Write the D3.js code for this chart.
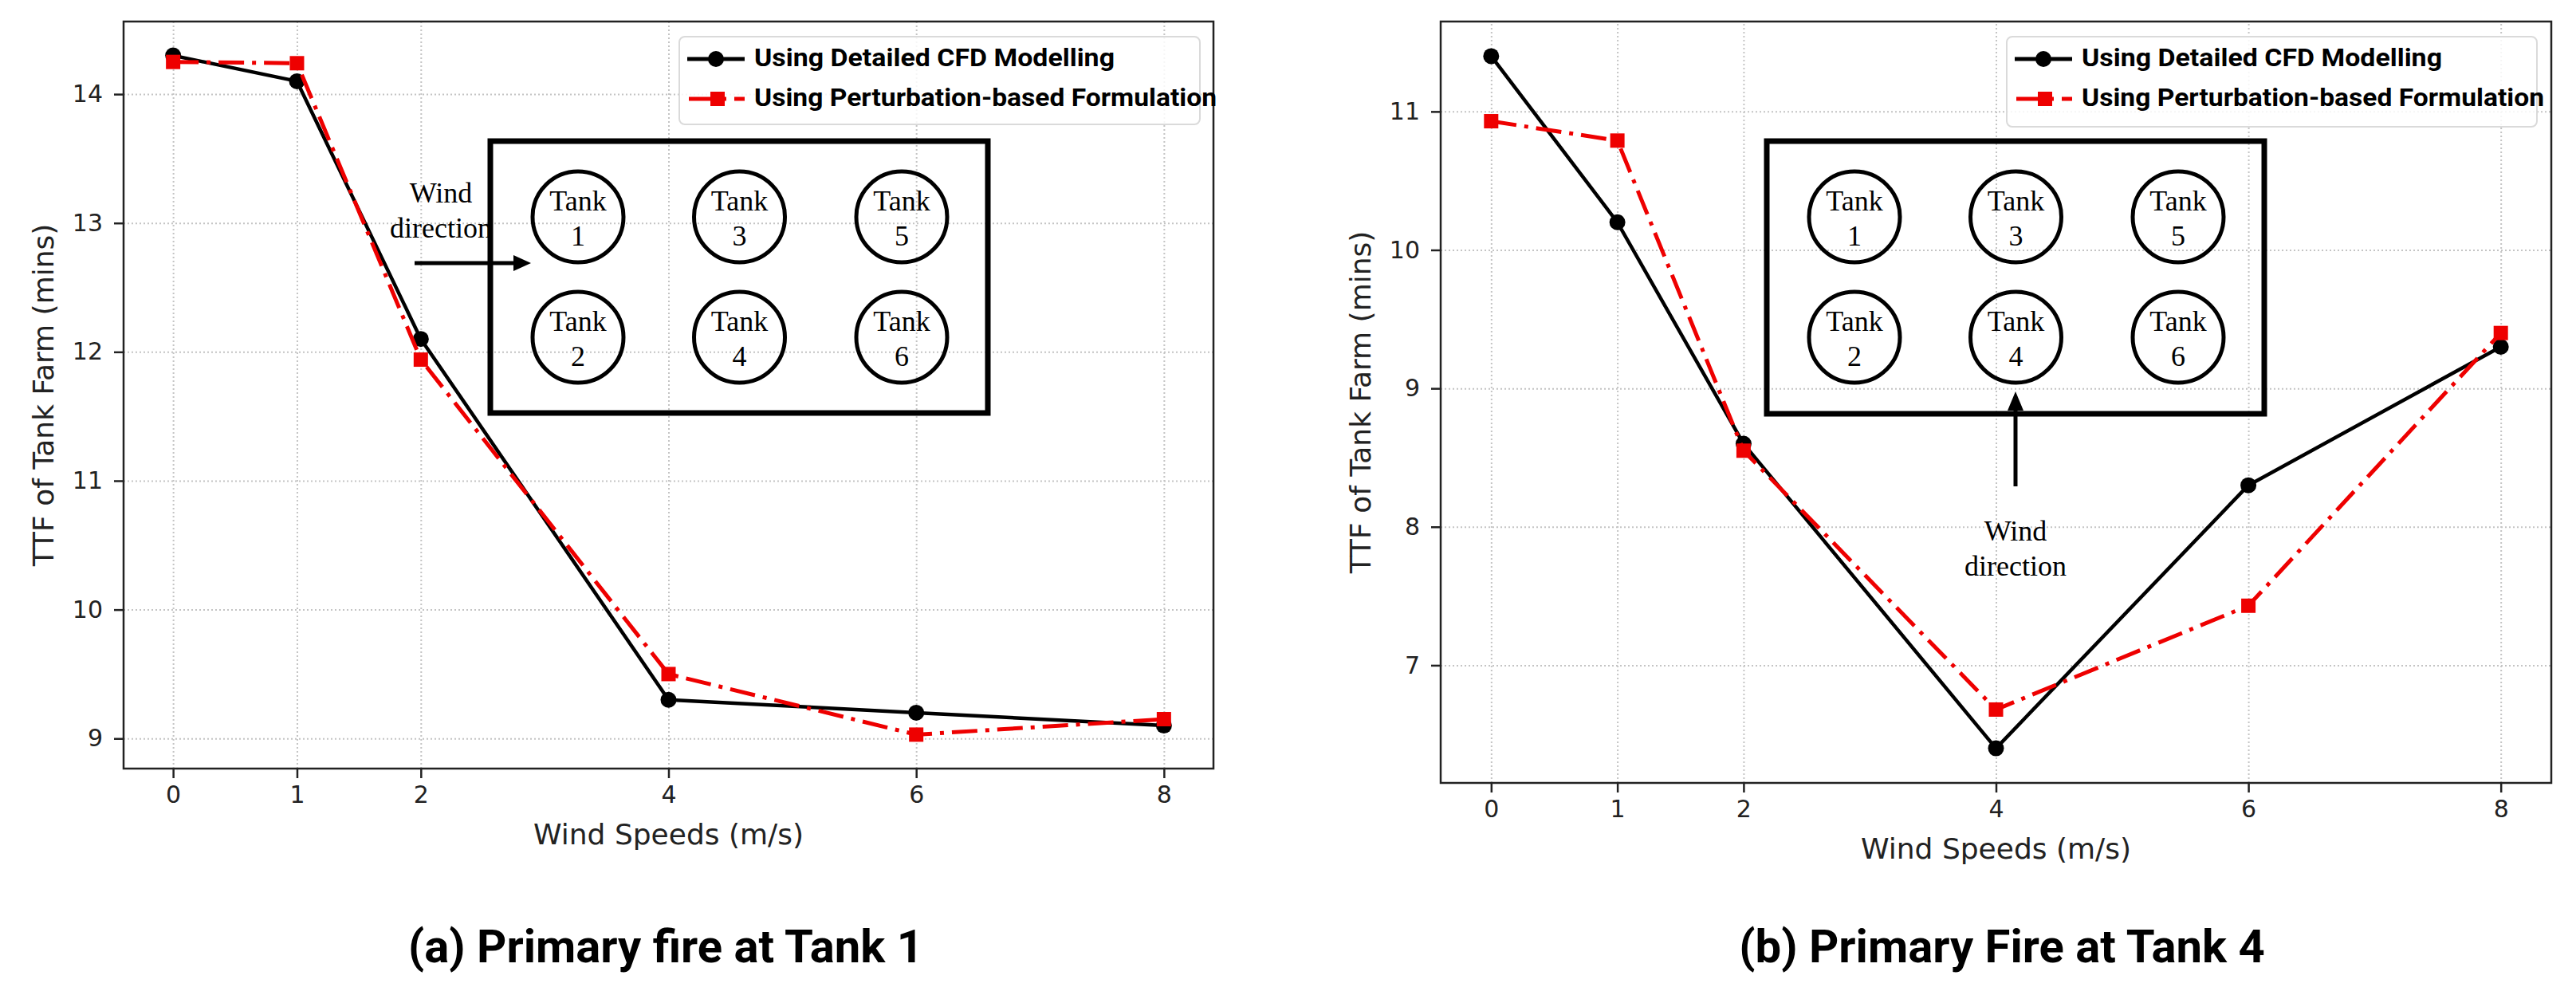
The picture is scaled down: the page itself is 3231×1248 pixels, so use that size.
<!DOCTYPE html>
<html>
<head>
<meta charset="utf-8">
<script src="https://cdn.jsdelivr.net/npm/d3@7"></script>
<style>
  html, body { margin: 0; padding: 0; background: #fff; }
  svg { display: block; }
</style>
</head>
<body>
<svg id="chart" width="3231" height="1248"></svg>
<script>
// ---------------- DATA ----------------
const windSpeeds = [0, 1, 2, 4, 6, 8];
const cfdTank1  = [14.3, 14.1, 12.1, 9.3, 9.2, 9.1];
const pertTank1 = [14.25, 14.24, 11.94, 9.5, 9.03, 9.15];
const cfdTank4  = [11.4, 10.2, 8.6, 6.4, 8.3, 9.3];
const pertTank4 = [10.93, 10.79, 8.55, 6.68, 7.43, 9.4];
const yTicksTank1 = [9, 10, 11, 12, 13, 14];
const yTicksTank4 = [7, 8, 9, 10, 11];
const seriesNames = ["Using Detailed CFD Modelling", "Using Perturbation-based Formulation"];
const panelTitles = ["(a) Primary fire at Tank 1", "(b) Primary Fire at Tank 4"];
const xAxisLabel = "Wind Speeds (m/s)";
const yAxisLabel = "TTF of Tank Farm (mins)";
const tankRows = [[1, 3, 5], [2, 4, 6]];
const windText = ["Wind", "direction"];

// ---------------- LAYOUT ----------------
const panels = [
  { cfd: cfdTank1, pert: pertTank1, yTicks: yTicksTank1, title: panelTitles[0],
    left: 155, right: 1522, top: 27, bottom: 964, titleX: 835,
    legend: { x: 852, y: 46, w: 653, h: 110 },
    inset: { x: 615, y: 177, w: 624, h: 341 },
    wind: { mode: "h", tx: 553, ty: 254, ax0: 520, ax1: 666, ay: 330 } },
  { cfd: cfdTank4, pert: pertTank4, yTicks: yTicksTank4, title: panelTitles[1],
    left: 1807, right: 3200, top: 27, bottom: 982, titleX: 2511,
    legend: { x: 2517, y: 46, w: 665, h: 113 },
    inset: { x: 2216, y: 177, w: 624, h: 342 },
    wind: { mode: "v", tx: 2528, ty: 678, ax: 2528, ay0: 610, ay1: 491 } }
];
const insetCols = [110, 312.5, 516];
const insetRows = [272, 423];

const RED = "#ee0000";
const svg = d3.select("#chart");
const pad = ext => { const r = ext[1] - ext[0]; return [ext[0] - r * 0.05, ext[1] + r * 0.05]; };

panels.forEach(p => {
  const g = svg.append("g");
  const x = d3.scaleLinear().domain(pad(d3.extent(windSpeeds))).range([p.left, p.right]);
  const y = d3.scaleLinear().domain(pad(d3.extent(p.cfd.concat(p.pert)))).range([p.bottom, p.top]);
  const h = p.bottom - p.top, w = p.right - p.left;

  // grid
  const gx = g.append("g").attr("transform", `translate(0,${p.bottom})`)
    .call(d3.axisBottom(x).tickValues(windSpeeds).tickSize(-h).tickFormat(""));
  const gy = g.append("g").attr("transform", `translate(${p.left},0)`)
    .call(d3.axisLeft(y).tickValues(p.yTicks).tickSize(-w).tickFormat(""));
  [gx, gy].forEach(a => {
    a.select(".domain").remove();
    a.selectAll("line").attr("stroke", "#c4c4c4").attr("stroke-width", 2).attr("stroke-dasharray", "2,3");
  });

  // inset diagram
  const ins = g.append("g");
  ins.append("rect").attr("x", p.inset.x).attr("y", p.inset.y).attr("width", p.inset.w).attr("height", p.inset.h)
    .attr("fill", "none").attr("stroke", "#000").attr("stroke-width", 7);
  tankRows.forEach((row, ri) => row.forEach((num, ci) => {
    const cx = p.inset.x + insetCols[ci], cy = insetRows[ri];
    ins.append("circle").attr("cx", cx).attr("cy", cy).attr("r", 57)
      .attr("fill", "none").attr("stroke", "#000").attr("stroke-width", 5);
    ins.append("text").attr("x", cx).attr("y", cy - 8).attr("text-anchor", "middle")
      .attr("font-family", "Liberation Serif, Times New Roman, serif").attr("font-size", 36).text("Tank");
    ins.append("text").attr("x", cx).attr("y", cy + 36).attr("text-anchor", "middle")
      .attr("font-family", "Liberation Serif, Times New Roman, serif").attr("font-size", 36).text(num);
  }));
  windText.forEach((t, i) => {
    ins.append("text").attr("x", p.wind.tx).attr("y", p.wind.ty + i * 44).attr("text-anchor", "middle")
      .attr("font-family", "Liberation Serif, Times New Roman, serif").attr("font-size", 36).text(t);
  });
  if (p.wind.mode === "h") {
    ins.append("line").attr("x1", p.wind.ax0).attr("x2", p.wind.ax1 - 18).attr("y1", p.wind.ay).attr("y2", p.wind.ay)
      .attr("stroke", "#000").attr("stroke-width", 5);
    ins.append("path").attr("d", `M${p.wind.ax1},${p.wind.ay} L${p.wind.ax1 - 22},${p.wind.ay - 10} L${p.wind.ax1 - 22},${p.wind.ay + 10} Z`).attr("fill", "#000");
  } else {
    ins.append("line").attr("x1", p.wind.ax).attr("x2", p.wind.ax).attr("y1", p.wind.ay0).attr("y2", p.wind.ay1 + 18)
      .attr("stroke", "#000").attr("stroke-width", 5);
    ins.append("path").attr("d", `M${p.wind.ax},${p.wind.ay1} L${p.wind.ax - 10},${p.wind.ay1 + 24} L${p.wind.ax + 10},${p.wind.ay1 + 24} Z`).attr("fill", "#000");
  }

  // axes
  const ax = g.append("g").attr("transform", `translate(0,${p.bottom})`)
    .call(d3.axisBottom(x).tickValues(windSpeeds).tickSize(12).tickPadding(10).tickFormat(d3.format("d")));
  const ay = g.append("g").attr("transform", `translate(${p.left},0)`)
    .call(d3.axisLeft(y).tickValues(p.yTicks).tickSize(12).tickPadding(14).tickFormat(d3.format("d")));
  [ax, ay].forEach(a => {
    a.select(".domain").remove();
    a.selectAll("line").attr("stroke", "#222").attr("stroke-width", 2.5);
    a.selectAll("text").attr("font-family", "DejaVu Sans, sans-serif").attr("font-size", 30).attr("fill", "#222");
  });

  // frame
  g.append("rect").attr("x", p.left).attr("y", p.top).attr("width", w).attr("height", h)
    .attr("fill", "none").attr("stroke", "#222").attr("stroke-width", 2.5);

  // axis labels
  g.append("text").attr("x", (p.left + p.right) / 2).attr("y", p.bottom + 95).attr("text-anchor", "middle")
    .attr("font-family", "DejaVu Sans, sans-serif").attr("font-size", 36).attr("fill", "#222").text(xAxisLabel);
  g.append("text").attr("transform", `translate(${p.left - 88},${(p.top + p.bottom) / 2}) rotate(-90)`)
    .attr("text-anchor", "middle")
    .attr("font-family", "DejaVu Sans, sans-serif").attr("font-size", 36).attr("fill", "#222").text(yAxisLabel);

  // series
  const line = d3.line().x((d, i) => x(windSpeeds[i])).y(d => y(d));
  g.append("path").datum(p.cfd).attr("d", line).attr("fill", "none").attr("stroke", "#000").attr("stroke-width", 4.5)
    .attr("stroke-linejoin", "round");
  g.selectAll(null).data(p.cfd).enter().append("circle")
    .attr("cx", (d, i) => x(windSpeeds[i])).attr("cy", d => y(d)).attr("r", 10).attr("fill", "#000");
  g.append("path").datum(p.pert).attr("d", line).attr("fill", "none").attr("stroke", RED).attr("stroke-width", 5)
    .attr("stroke-dasharray", "32,10,5,10");
  g.selectAll(null).data(p.pert).enter().append("rect")
    .attr("x", (d, i) => x(windSpeeds[i]) - 9).attr("y", d => y(d) - 9).attr("width", 18).attr("height", 18).attr("fill", RED);

  // legend
  const L = p.legend;
  const lg = g.append("g");
  lg.append("rect").attr("x", L.x).attr("y", L.y).attr("width", L.w).attr("height", L.h).attr("rx", 7)
    .attr("fill", "#fff").attr("fill-opacity", 0.85).attr("stroke", "#dadada").attr("stroke-width", 2);
  const rows = [L.y + 28, L.y + 78];
  lg.append("line").attr("x1", L.x + 10).attr("x2", L.x + 82).attr("y1", rows[0]).attr("y2", rows[0])
    .attr("stroke", "#000").attr("stroke-width", 5);
  lg.append("circle").attr("cx", L.x + 46).attr("cy", rows[0]).attr("r", 10).attr("fill", "#000");
  lg.append("line").attr("x1", L.x + 12).attr("x2", L.x + 82).attr("y1", rows[1]).attr("y2", rows[1])
    .attr("stroke", RED).attr("stroke-width", 5).attr("stroke-dasharray", "32,10,5,10");
  lg.append("rect").attr("x", L.x + 39).attr("y", rows[1] - 9).attr("width", 18).attr("height", 18).attr("fill", RED);
  const tl = [452, 580];
  seriesNames.forEach((s, i) => {
    lg.append("text").attr("x", L.x + 94).attr("y", rows[i] + 9 + (i === 0 ? 0 : 0))
      .attr("font-family", "Roboto, sans-serif").attr("font-weight", 700).attr("font-size", 31)
      .attr("textLength", tl[i]).attr("lengthAdjust", "spacingAndGlyphs").attr("fill", "#000").text(s);
  });

  // panel title
  g.append("text").attr("x", p.titleX).attr("y", 1207).attr("text-anchor", "middle")
    .attr("font-family", "Roboto, sans-serif").attr("font-weight", 700).attr("font-size", 58).attr("fill", "#000")
    .text(p.title);
});
</script>
</body>
</html>
